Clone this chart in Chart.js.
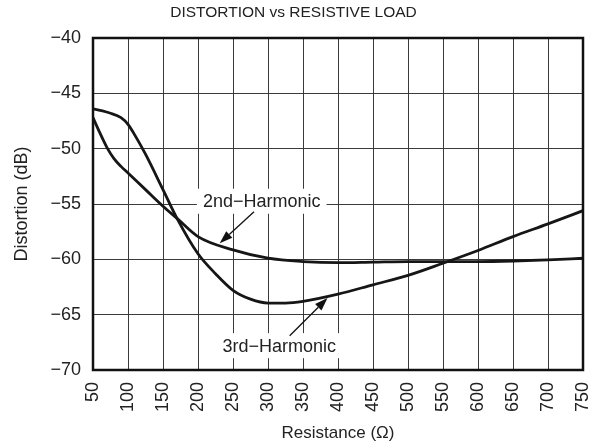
<!DOCTYPE html>
<html>
<head>
<meta charset="utf-8">
<script src="https://cdn.jsdelivr.net/npm/chart.js@4/dist/chart.umd.min.js"></script>
<style>
  html, body { margin: 0; padding: 0; background: #fff; }
  #wrap { width: 598px; height: 447px; }
</style>
</head>
<body>
<div id="wrap"><canvas id="chart" width="598" height="447"></canvas></div>
<script>
// curve values (resistance in ohms, distortion in dB)
const secondR = [50, 60, 70, 80, 90, 100, 125, 150, 170, 200, 250, 300, 350, 400, 450, 500, 550, 600, 650, 700, 750];
const secondDb = [-47.2, -48.6, -49.9, -50.9, -51.6, -52.2, -53.7, -55.2, -56.3, -57.95, -59.15, -59.9, -60.2, -60.3, -60.25, -60.2, -60.2, -60.2, -60.15, -60.05, -59.9];

const thirdR = [50, 75, 90, 100, 110, 125, 150, 170, 200, 225, 250, 275, 300, 325, 350, 400, 450, 500, 550, 600, 650, 700, 750];
const thirdDb = [-46.4, -46.8, -47.2, -47.8, -48.8, -50.5, -53.7, -56.3, -59.5, -61.3, -62.8, -63.6, -63.95, -63.95, -63.8, -63.15, -62.3, -61.45, -60.35, -59.2, -57.95, -56.8, -55.6];

// axis ranges
const xMin = 50, xMax = 750, xStep = 50;
const yMin = -70, yMax = -40, yStep = 5;

// callouts: label anchor and arrow start/tip, in data units
const callouts = [
    { text: '2nd\u2212Harmonic', at: [291, -54.75], from: [280, -55.7], tip: [231, -58.55] },
    { text: '3rd\u2212Harmonic', at: [316, -67.8], from: [331, -66.9], tip: [385, -63.5] }
];

const FONT = "'Liberation Sans', Arial, Helvetica, sans-serif";
const INK = '#222';

function toPoints(xs, ys) {
    return xs.map((x, i) => ({ x: x, y: ys[i] }));
}

const minus = v => String(v).replace('-', '\u2212');

// frame around the plot area
const framePlugin = {
    id: 'frame',
    afterDraw(chart) {
        const a = chart.chartArea;
        const ctx = chart.ctx;
        ctx.save();
        ctx.strokeStyle = '#111';
        ctx.lineWidth = 2.5;
        ctx.strokeRect(a.left, a.top, a.right - a.left, a.bottom - a.top);
        ctx.restore();
    }
};

// text labels with arrows pointing to the curves
const calloutPlugin = {
    id: 'callouts',
    afterDatasetsDraw(chart) {
        const ctx = chart.ctx;
        const xs = chart.scales.x, ys = chart.scales.y;
        ctx.save();
        ctx.font = '18px ' + FONT;
        callouts.forEach(c => {
            const cx = xs.getPixelForValue(c.at[0]);
            const cy = ys.getPixelForValue(c.at[1]);
            const w = ctx.measureText(c.text).width;
            ctx.fillStyle = '#fff';
            ctx.fillRect(cx - w / 2 - 6, cy - 12.5, w + 12, 25);
            ctx.fillStyle = INK;
            ctx.textAlign = 'center';
            ctx.textBaseline = 'middle';
            ctx.fillText(c.text, cx, cy + 1);

            const x0 = xs.getPixelForValue(c.from[0]), y0 = ys.getPixelForValue(c.from[1]);
            const x1 = xs.getPixelForValue(c.tip[0]), y1 = ys.getPixelForValue(c.tip[1]);
            const ang = Math.atan2(y1 - y0, x1 - x0);
            const len = 13, half = 4.5;
            const bx = x1 - len * Math.cos(ang), by = y1 - len * Math.sin(ang);
            ctx.strokeStyle = '#111';
            ctx.lineWidth = 1.3;
            ctx.beginPath();
            ctx.moveTo(x0, y0);
            ctx.lineTo(bx, by);
            ctx.stroke();
            ctx.fillStyle = '#111';
            ctx.beginPath();
            ctx.moveTo(x1, y1);
            ctx.lineTo(bx + half * Math.sin(ang), by - half * Math.cos(ang));
            ctx.lineTo(bx - half * Math.sin(ang), by + half * Math.cos(ang));
            ctx.closePath();
            ctx.fill();
        });
        ctx.restore();
    }
};

const lineStyle = {
    borderColor: '#161616',
    borderWidth: 2.8,
    pointRadius: 0,
    fill: false,
    cubicInterpolationMode: 'monotone'
};

new Chart(document.getElementById('chart'), {
    type: 'line',
    data: {
        datasets: [
            Object.assign({ label: '2nd-Harmonic', data: toPoints(secondR, secondDb) }, lineStyle),
            Object.assign({ label: '3rd-Harmonic', data: toPoints(thirdR, thirdDb) }, lineStyle)
        ]
    },
    options: {
        responsive: false,
        animation: false,
        events: [],
        layout: { padding: { left: 4, right: 15, top: 0, bottom: 0 } },
        plugins: {
            legend: { display: false },
            tooltip: { enabled: false },
            title: {
                display: true,
                text: 'DISTORTION vs RESISTIVE LOAD',
                color: INK,
                font: { family: FONT, size: 15.5, weight: 'normal' },
                padding: { top: 3, bottom: 16.4 }
            }
        },
        scales: {
            x: {
                type: 'linear',
                min: xMin,
                max: xMax,
                border: { display: false },
                grid: { color: '#3a3a3a', lineWidth: 1, drawTicks: false },
                ticks: {
                    stepSize: xStep,
                    autoSkip: false,
                    minRotation: 90,
                    maxRotation: 90,
                    padding: 12,
                    color: INK,
                    font: { family: FONT, size: 18 }
                },
                title: {
                    display: true,
                    text: 'Resistance (\u03A9)',
                    color: INK,
                    font: { family: FONT, size: 17 },
                    padding: { top: 0, bottom: 3 }
                },
                afterFit(scale) {
                    scale.height = 77;
                    scale.paddingLeft = 0;
                    scale.paddingRight = 0;
                }
            },
            y: {
                min: yMin,
                max: yMax,
                border: { display: false },
                grid: { color: '#3a3a3a', lineWidth: 1, drawTicks: false },
                ticks: {
                    stepSize: yStep,
                    padding: 12,
                    color: INK,
                    font: { family: FONT, size: 18 },
                    callback: v => minus(v)
                },
                title: {
                    display: true,
                    text: 'Distortion (dB)',
                    color: INK,
                    font: { family: FONT, size: 18 },
                    padding: { top: 7, bottom: 0 }
                },
                afterFit(scale) { scale.width = 89; }
            }
        }
    },
    plugins: [framePlugin, calloutPlugin]
});
</script>
</body>
</html>
